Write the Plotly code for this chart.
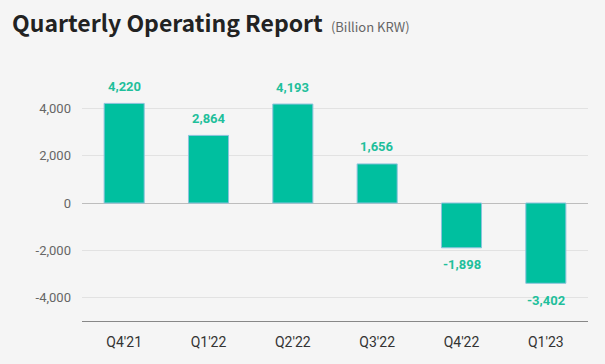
import plotly.graph_objects as go

quarters = ["Q4'21", "Q1'22", "Q2'22", "Q3'22", "Q4'22", "Q1'23"]
values = [4220, 2864, 4193, 1656, -1898, -3402]
tick_vals = [-4000, -2000, 0, 2000, 4000]
tick_text = ["-4,000", "-2,000", "0", "2,000", "4,000"]

labels = [f"{v:,}" for v in values]

fig = go.Figure()
fig.add_trace(go.Bar(
    x=quarters, y=values,
    marker=dict(color="#00bf9f", line=dict(color="#8cc3dc", width=1)),
    cliponaxis=False, width=0.475,
))

for q, v, t in zip(quarters, values, labels):
    fig.add_annotation(
        x=q, y=v, text=f"<b>{t}</b>", showarrow=False,
        yanchor="middle", yshift=17 if v >= 0 else -17,
        font=dict(family="Roboto", size=13, color="#1fbf9b"),
    )

fig.update_layout(
    width=605, height=364,
    paper_bgcolor="#f5f5f5", plot_bgcolor="#f5f5f5",
    margin=dict(l=82, r=17, t=85, b=43),
    showlegend=False,
    title=dict(
        text="<b>Quarterly Operating Report</b> <span style='font-size:13px;color:#666;font-weight:normal'> (Billion KRW)</span>",
        x=0.02, xanchor="left", y=0.935, yanchor="middle",
        font=dict(family="Noto Sans CJK KR", size=23, color="#222"),
    ),
    xaxis=dict(
        showgrid=False, showline=True, linecolor="#888", linewidth=1,
        tickfont=dict(family="Roboto", size=14, color="#333"),
        ticks="", ticklabelstandoff=8,
    ),
    yaxis=dict(
        range=[-5000, 5000], tickvals=tick_vals, ticktext=tick_text,
        showgrid=True, gridcolor="#e2e2e2", gridwidth=1,
        zeroline=True, zerolinecolor="#bdbdbd", zerolinewidth=1,
        tickfont=dict(family="Roboto", size=13, color="#666"),
        ticks="", ticklabelstandoff=10,
    ),
)

fig.write_html(
    "out.html",
    config={"displayModeBar": False},
    post_script="document.body.style.margin='0';document.body.style.background='#f5f5f5';",
)
